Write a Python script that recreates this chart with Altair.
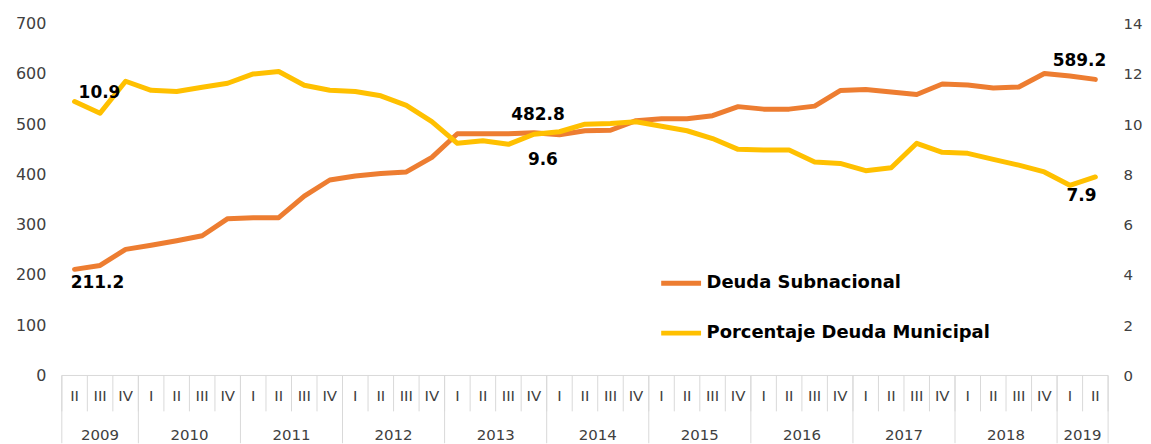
import altair as alt
import pandas as pd

quarters = ["II", "III", "IV"] + ["I", "II", "III", "IV"] * 9 + ["I", "II"]
years = ["2009"] * 3 + [str(y) for y in range(2010, 2019) for _ in range(4)] + ["2019"] * 2

deuda_subnacional = [211.2, 219, 251, 259, 268, 278, 312, 314, 314, 357, 389, 397,
                     402, 405, 434, 481, 481, 481, 482.8, 479, 487, 488, 507, 511,
                     511, 517, 535, 530, 530, 536, 567, 569, 564, 559, 580, 578,
                     572, 574, 601, 596, 589.2]
porcentaje_municipal = [10.9, 10.44, 11.71, 11.35, 11.3, 11.47, 11.63, 12.0, 12.1, 11.55,
                        11.35, 11.3, 11.13, 10.75, 10.1, 9.24, 9.34, 9.2, 9.6, 9.7,
                        10.0, 10.03, 10.1, 9.92, 9.74, 9.43, 9.0, 8.97, 8.97, 8.5,
                        8.44, 8.15, 8.27, 9.24, 8.88, 8.84, 8.6, 8.37, 8.1, 7.57, 7.9]

S1 = "Deuda Subnacional"
S2 = "Porcentaje Deuda Municipal"
ORANGE = "#ED7D31"
YELLOW = "#FFC000"
FONT = "DejaVu Sans"
GRAY_TXT = "#404040"
SEP = "#d9d9d9"

n = len(quarters)
df = pd.DataFrame({"idx": list(range(n)), "quarter": quarters, "year": years,
                   "sub": deuda_subnacional, "mun": porcentaje_municipal})
df["sub_lbl"] = df["sub"].map(lambda v: f"{v:.1f}")
df["mun_lbl"] = df["mun"].map(lambda v: f"{v:.1f}")
df["serie1"] = S1
df["serie2"] = S2

# separators
qsep = pd.DataFrame({"pos": [i - 0.5 for i in range(n + 1)]})
ybound = [i for i in range(n) if i == 0 or years[i] != years[i - 1]] + [n]
ysep = pd.DataFrame({"pos": [i - 0.5 for i in ybound]})
base_line = pd.DataFrame({"start": [ysep["pos"].min()], "end": [ysep["pos"].max()]})
ylab = df.groupby("year", as_index=False)["idx"].mean()

xs = alt.Scale(domain=[-0.5, n - 0.5], nice=False, zero=False)
cscale = alt.Scale(domain=[S1, S2], range=[ORANGE, YELLOW])

base = alt.Chart(df)

line1 = base.mark_line(strokeWidth=5, strokeCap="round", strokeJoin="round").encode(
    x=alt.X("idx:Q", scale=xs, axis=None),
    y=alt.Y("sub:Q", scale=alt.Scale(domain=[0, 700], nice=False),
            axis=alt.Axis(orient="left", values=list(range(0, 701, 100)), domain=False,
                          ticks=False, grid=False, title=None, labelFont=FONT,
                          labelFontSize=16, labelColor=GRAY_TXT, labelPadding=16)),
    color=alt.Color("serie1:N", scale=cscale,
                    legend=alt.Legend(orient="none", legendX=599, legendY=238,
                                      title=None, symbolType="stroke",
                                      symbolStrokeWidth=5, symbolSize=1600,
                                      labelFont=FONT, labelFontSize=18,
                                      labelFontWeight="bold", labelColor="black",
                                      labelOffset=3, rowPadding=17, labelLimit=400)),
)

def lab(field, lblfield, i, dx, dy):
    return base.transform_filter(alt.datum.idx == i).mark_text(
        font=FONT, fontSize=17, fontWeight="bold", color="black", dx=dx, dy=dy
    ).encode(x=alt.X("idx:Q", scale=xs, axis=None), y=alt.Y(f"{field}:Q"),
             text=f"{lblfield}:N")

sub_labels = [lab("sub", "sub_lbl", 0, 23, 14), lab("sub", "sub_lbl", 18, 4, -18),
              lab("sub", "sub_lbl", n - 1, -16, -18)]

hline = alt.Chart(base_line).mark_rule(color=SEP, strokeWidth=1).encode(
    x=alt.X("start:Q", scale=xs, axis=None), x2="end:Q", y=alt.value(353))
qrules = alt.Chart(qsep).mark_rule(color=SEP, strokeWidth=1).encode(
    x=alt.X("pos:Q", scale=xs, axis=None), y=alt.value(353), y2=alt.value(389))
yrules = alt.Chart(ysep).mark_rule(color=SEP, strokeWidth=1).encode(
    x=alt.X("pos:Q", scale=xs, axis=None), y=alt.value(353), y2=alt.value(421))
qtext = base.mark_text(font=FONT, fontSize=15, color=GRAY_TXT, baseline="middle").encode(
    x=alt.X("idx:Q", scale=xs, axis=None), y=alt.value(374), text="quarter:N")
ytext = alt.Chart(ylab).mark_text(font=FONT, fontSize=15, color=GRAY_TXT,
                                  baseline="middle").encode(
    x=alt.X("idx:Q", scale=xs, axis=None), y=alt.value(413), text="year:N")

left = alt.layer(hline, qrules, yrules, line1, *sub_labels, qtext, ytext)

line2 = base.mark_line(strokeWidth=5, strokeCap="round", strokeJoin="round").encode(
    x=alt.X("idx:Q", scale=xs, axis=None),
    y=alt.Y("mun:Q", scale=alt.Scale(domain=[0, 14], nice=False),
            axis=alt.Axis(orient="right", values=list(range(0, 15, 2)), domain=False,
                          ticks=False, grid=False, title=None, labelFont=FONT,
                          labelFontSize=15, labelColor=GRAY_TXT, labelPadding=15)),
    color=alt.Color("serie2:N", scale=cscale),
)
mun_labels = [lab("mun", "mun_lbl", 0, 25, -9), lab("mun", "mun_lbl", 18, 9, 26),
              lab("mun", "mun_lbl", n - 1, -14, 19)]
right = alt.layer(line2, *mun_labels)

chart = alt.layer(left, right).resolve_scale(y="independent").properties(
    width=1050, height=353,
    background="white",
    autosize=alt.AutoSizeParams(type="none"),
    padding={"left": 54, "top": 15, "right": 35, "bottom": 68},
).configure_view(strokeWidth=0, stroke="transparent")

chart.save("out.html", embed_options={"renderer": "svg", "actions": False})
